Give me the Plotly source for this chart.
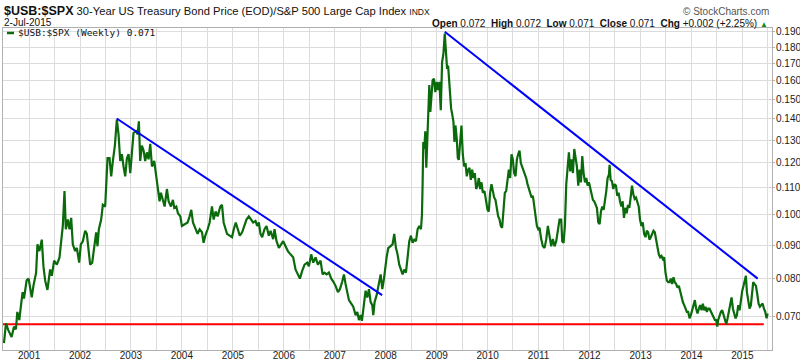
import pandas as pd
import plotly.graph_objects as go

# ---- data (decimal years, ratio values) ----
years = [
 2000.509,2000.548,2000.594,2000.659,2000.705,2000.744,2000.771,2000.810,2000.836,2000.875,2000.902,2000.954,2000.993,
 2001.052,2001.085,2001.138,2001.164,2001.203,2001.249,2001.282,2001.315,2001.360,2001.413,2001.446,2001.491,2001.544,
 2001.596,2001.623,2001.662,2001.695,2001.721,2001.760,2001.793,2001.826,2001.858,2001.904,2001.937,2001.983,
 2002.016,2002.055,2002.101,2002.134,2002.166,2002.199,2002.239,2002.278,2002.317,2002.343,2002.370,2002.415,2002.448,
 2002.494,2002.514,2002.540,2002.579,2002.612,2002.645,2002.684,2002.723,2002.756,2002.789,2002.822,2002.854,2002.887,
 2002.920,2002.953,2002.986,2003.025,2003.051,2003.104,2003.130,2003.156,2003.182,2003.215,2003.248,2003.280,2003.313,
 2003.346,2003.379,2003.412,2003.457,2003.497,2003.543,2003.562,2003.588,2003.628,2003.661,2003.706,2003.739,2003.785,
 2003.824,2003.851,2003.890,2003.923,2003.969,2004.001,2004.067,2004.113,2004.152,2004.185,2004.218,2004.263,2004.309,
 2004.349,2004.395,2004.427,2004.460,2004.506,2004.545,2004.591,2004.624,2004.663,2004.702,2004.755,2004.788,2004.820,
 2004.853,2004.886,2004.938,2004.984,2005.017,2005.056,2005.096,2005.135,2005.181,2005.227,2005.266,2005.312,2005.358,
 2005.397,2005.443,2005.476,2005.508,2005.541,2005.574,2005.620,2005.659,2005.705,2005.738,2005.790,2005.816,2005.856,
 2005.902,2005.948,2005.987,2006.033,2006.079,2006.131,2006.183,2006.229,2006.275,2006.315,2006.360,2006.406,2006.459,
 2006.491,2006.537,2006.577,2006.623,2006.668,2006.721,2006.760,2006.799,2006.839,2006.885,2006.931,2006.970,2007.016,
 2007.062,2007.101,2007.147,2007.180,2007.212,2007.245,2007.278,2007.324,2007.363,2007.409,2007.442,2007.474,2007.507,
 2007.533,2007.573,2007.605,2007.638,2007.671,2007.704,2007.736,2007.756,2007.782,2007.822,2007.867,2007.900,2007.933,
 2007.966,2008.018,2008.050,
 2008.135,2008.168,2008.201,2008.233,2008.266,2008.299,2008.332,2008.364,2008.397,2008.430,2008.463,2008.495,2008.528,
 2008.561,2008.594,2008.626,2008.659,2008.692,2008.712,2008.725,2008.738,2008.758,2008.777,2008.797,2008.817,2008.836,
 2008.856,2008.876,2008.895,2008.921,2008.948,2008.974,2009.000,2009.026,2009.052,2009.079,2009.105,2009.131,2009.157,
 2009.183,2009.203,2009.223,2009.249,2009.282,2009.301,2009.328,2009.347,2009.367,2009.393,2009.413,2009.432,2009.459,
 2009.485,2009.511,2009.537,2009.564,2009.590,2009.616,2009.642,2009.668,2009.695,2009.721,2009.747,2009.773,2009.799,
 2009.826,2009.852,2009.878,2009.904,2009.937,2009.970,2009.996,2010.022,2010.048,2010.075,2010.101,2010.127,2010.153,
 2010.180,2010.206,2010.232,2010.258,2010.284,2010.311,2010.337,2010.363,2010.389,2010.415,2010.442,2010.468,2010.494,
 2010.520,2010.547,2010.573,2010.599,2010.625,2010.651,2010.678,2010.704,2010.730,2010.756,2010.782,2010.809,2010.835,
 2010.861,2010.887,2010.913,2010.940,2010.966,2010.992,2011.018,2011.051,2011.084,2011.117,2011.149,2011.182,2011.215,
 2011.248,2011.280,2011.313,2011.346,2011.379,2011.411,2011.444,2011.464,2011.490,2011.516,2011.543,2011.569,2011.595,
 2011.621,2011.647,2011.674,2011.700,2011.726,2011.752,2011.778,2011.805,2011.831,2011.857,2011.883,2011.910,2011.936,
 2011.962,2011.988,2012.014,2012.041,2012.067,2012.093,2012.119,2012.145,2012.172,2012.198,2012.224,2012.250,2012.277,
 2012.303,2012.329,2012.355,2012.381,2012.394,2012.414,2012.440,2012.467,2012.493,2012.519,2012.545,2012.571,2012.598,
 2012.624,2012.650,2012.676,2012.702,2012.729,2012.755,2012.781,2012.807,2012.834,2012.860,2012.886,2012.912,2012.938,
 2012.965,2012.991,2013.017,2013.043,2013.069,2013.096,2013.122,2013.148,2013.174,2013.200,2013.227,2013.253,2013.279,
 2013.305,2013.332,2013.358,2013.384,2013.410,2013.436,2013.463,2013.489,2013.515,2013.541,2013.567,2013.594,2013.620,
 2013.646,2013.672,2013.699,2013.725,2013.751,2013.777,2013.803,2013.830,2013.856,2013.882,2013.908,2013.934,2013.961,
 2013.987,2014.013,2014.039,2014.066,2014.092,2014.118,2014.144,2014.170,2014.197,2014.223,2014.249,2014.275,2014.301,
 2014.328,2014.354,2014.380,2014.406,2014.433,2014.459,2014.485,2014.505,2014.524,2014.551,2014.577,2014.603,2014.629,
 2014.655,2014.682,2014.708,2014.734,2014.760,2014.786,2014.813,2014.839,2014.865,2014.891,2014.917,2014.944,2014.970,
 2014.996,2015.022,2015.048,2015.068,2015.088,2015.114,2015.140,2015.166,2015.193,2015.212,2015.238,2015.265,2015.291,
 2015.317,2015.343,2015.369,2015.396,2015.422,2015.448,2015.474,2015.494,
]
ratio = [
 0.0638,0.0684,0.0668,0.0652,0.0676,0.0670,0.0712,0.0692,0.0721,0.0763,0.0746,0.0795,0.0800,
 0.0749,0.0780,0.0817,0.0902,0.0881,0.0917,0.0835,0.0795,0.0769,0.0826,0.0808,0.0852,0.0840,
 0.0861,0.0902,0.0962,0.1087,0.0951,0.0984,0.0951,0.0990,0.0902,0.0881,0.0891,0.0846,
 0.0902,0.0912,0.0946,0.0936,0.0881,0.0840,0.0846,0.0891,0.0941,0.0896,0.0951,0.0984,0.1036,
 0.1030,0.1131,0.1220,0.1220,0.1145,0.1208,0.1275,0.1397,0.1326,0.1208,0.1237,0.1185,0.1145,
 0.1220,0.1237,0.1158,0.1260,0.1333,0.1340,0.1326,0.1388,0.1208,0.1275,0.1253,0.1208,0.1245,
 0.1215,0.1283,0.1185,0.1208,0.1145,0.1081,0.1049,0.1081,0.1054,0.1030,0.1095,0.1049,0.1030,
 0.1054,0.1025,0.1030,0.1006,0.0995,0.0962,0.0968,0.0974,0.0995,0.1018,0.0974,0.0956,0.0936,
 0.0951,0.0941,0.0907,0.0930,0.0951,0.0974,0.1030,0.0984,0.1012,0.0995,0.1030,0.1036,0.0974,
 0.0951,0.0936,0.0930,0.0925,0.0951,0.0974,0.0951,0.0930,0.0941,0.0962,0.0984,0.0995,0.0984,
 0.0974,0.0979,0.0962,0.0974,0.0936,0.0925,0.0951,0.0962,0.0930,0.0946,0.0919,0.0951,0.0912,
 0.0891,0.0902,0.0912,0.0896,0.0881,0.0871,0.0862,0.0826,0.0812,0.0800,0.0822,0.0840,0.0846,
 0.0835,0.0871,0.0846,0.0862,0.0840,0.0852,0.0812,0.0817,0.0812,0.0817,0.0800,0.0792,0.0780,
 0.0763,0.0771,0.0792,0.0812,0.0785,0.0763,0.0742,0.0733,0.0725,0.0704,0.0712,0.0692,0.0704,
 0.0690,0.0737,0.0767,0.0749,0.0771,0.0737,0.0729,0.0704,0.0737,0.0755,0.0785,0.0812,0.0771,
 0.0800,0.0862,0.0890,
 0.0902,0.0936,0.0891,0.0871,0.0840,0.0822,0.0812,0.0826,0.0817,0.0862,0.0912,0.0930,0.0907,
 0.0917,0.0912,0.0951,0.0962,0.0951,0.1000,0.1118,0.1291,0.1260,0.1340,0.1180,0.1305,0.1368,
 0.1576,0.1435,0.1512,0.1603,0.1612,0.1538,0.1594,0.1548,0.1594,0.1443,0.1708,0.1759,0.1887,
 0.1708,0.1668,0.1687,0.1557,0.1451,0.1426,0.1385,0.1291,0.1368,0.1305,0.1221,0.1213,0.1305,
 0.1368,0.1237,0.1185,0.1199,0.1145,0.1172,0.1179,0.1131,0.1172,0.1138,0.1158,0.1095,0.1108,
 0.1138,0.1095,0.1121,0.1081,0.1087,0.1049,0.1018,0.1012,0.1081,0.1114,0.1081,0.1063,0.1054,
 0.1025,0.0995,0.0985,0.0962,0.0956,0.1012,0.1081,0.1087,0.1131,0.1172,0.1138,0.1237,0.1215,
 0.1158,0.1145,0.1215,0.1237,0.1253,0.1199,0.1185,0.1165,0.1151,0.1138,0.1114,0.1095,0.1081,
 0.1063,0.1069,0.1030,0.0984,0.0962,0.0951,0.0956,0.0919,0.0896,0.0891,0.0917,0.0962,0.0930,
 0.0896,0.0919,0.0896,0.0912,0.0946,0.0984,0.0984,0.0912,0.0907,0.0962,0.1114,0.1199,0.1245,
 0.1165,0.1215,0.1158,0.1260,0.1221,0.1185,0.1108,0.1172,0.1121,0.1229,0.1158,0.1121,0.1138,
 0.1108,0.1121,0.1095,0.1075,0.1054,0.1049,0.1036,0.1025,0.0974,0.0968,0.1012,0.1030,0.1018,
 0.1049,0.1087,0.1138,0.1151,0.1192,0.1131,0.1125,0.1095,0.1114,0.1108,0.1069,0.1081,0.1049,
 0.1030,0.1049,0.0990,0.1025,0.1006,0.1036,0.1025,0.1063,0.1108,0.1075,0.1058,0.1063,0.1049,
 0.1030,0.0984,0.0962,0.0974,0.0936,0.0925,0.0946,0.0941,0.0917,0.0925,0.0936,0.0946,0.0941,
 0.0919,0.0891,0.0871,0.0862,0.0866,0.0857,0.0862,0.0817,0.0795,0.0790,0.0790,0.0800,0.0785,
 0.0804,0.0790,0.0785,0.0775,0.0780,0.0763,0.0749,0.0737,0.0729,0.0720,0.0712,0.0712,0.0696,
 0.0704,0.0716,0.0729,0.0742,0.0720,0.0708,0.0720,0.0729,0.0716,0.0733,0.0716,0.0725,0.0712,
 0.0720,0.0720,0.0712,0.0704,0.0700,0.0692,0.0692,0.0676,0.0692,0.0704,0.0712,0.0716,0.0704,
 0.0692,0.0682,0.0696,0.0716,0.0737,0.0749,0.0720,0.0704,0.0696,0.0704,0.0729,0.0716,0.0749,
 0.0767,0.0780,0.0800,0.0808,0.0763,0.0737,0.0720,0.0729,0.0763,0.0790,0.0785,0.0780,0.0758,
 0.0733,0.0725,0.0729,0.0733,0.0720,0.0712,0.0696,0.0708,
]

# trend lines (decimal years, values)
trend1_years = [2002.72, 2007.93]
trend1_vals = [0.1402, 0.0755]
trend2_years = [2009.157, 2015.30]
trend2_vals = [0.1900, 0.0800]
support_years = [2000.45, 2015.42]
support_vals = [0.0682, 0.0682]

y_ticks = [0.070, 0.080, 0.090, 0.100, 0.110, 0.120, 0.130, 0.140, 0.150, 0.160, 0.170, 0.180, 0.190]
y_tick_labels = [f"{v:.3f}" for v in y_ticks]


def to_dates(ys):
    out = []
    for y in ys:
        yr = int(y)
        out.append(pd.Timestamp(yr, 1, 1) + pd.Timedelta(days=(y - yr) * 365.25))
    return out


GREEN = "#0b6a0b"
FONT = "Liberation Sans, Arial, sans-serif"

fig = go.Figure()
fig.add_trace(go.Scatter(x=to_dates(support_years), y=support_vals, mode="lines",
                         line=dict(color="#ff0000", width=2), hoverinfo="skip"))
fig.add_trace(go.Scatter(x=to_dates(years), y=ratio, mode="lines",
                         line=dict(color=GREEN, width=2.2), name="$USB:$SPX"))
fig.add_trace(go.Scatter(x=to_dates(trend1_years), y=trend1_vals, mode="lines",
                         line=dict(color="#0000ff", width=2), hoverinfo="skip"))
fig.add_trace(go.Scatter(x=to_dates(trend2_years), y=trend2_vals, mode="lines",
                         line=dict(color="#0000ff", width=2), hoverinfo="skip"))

fig.update_layout(
    width=800, height=362,
    margin=dict(l=3, r=28, t=28, b=12),
    paper_bgcolor="white", plot_bgcolor="white",
    showlegend=False,
    font=dict(family=FONT, size=10, color="#222"),
    xaxis=dict(
        type="date",
        range=["2000-06-28", "2015-08-01"],
        tick0="2001-01-01", dtick="M12", tickformat="%Y",
        showgrid=True, gridcolor="#dcdcdc", gridwidth=1,
        minor=dict(dtick="M6", tick0="2000-07-01", showgrid=True, gridcolor="#dcdcdc", gridwidth=1),
        showline=True, linecolor="#b0b0b0", linewidth=1, mirror=True,
        ticks="", tickfont=dict(size=10, color="#222"),
        ticklabelstandoff=-4,
        automargin=False, zeroline=False,
    ),
    yaxis=dict(
        type="log", side="right",
        range=[-1.2055, -0.7156],
        tickvals=y_ticks, ticktext=y_tick_labels,
        showgrid=True, gridcolor="#dcdcdc", gridwidth=1,
        showline=True, linecolor="#b0b0b0", linewidth=1, mirror=True,
        ticks="outside", ticklen=2, tickcolor="#b0b0b0",
        tickfont=dict(size=10, color="#222"),
        ticklabelstandoff=-1,
        automargin=False, zeroline=False,
    ),
)

annotations = [
    dict(x=0, y=1.0528, xref="paper", yref="paper", xanchor="left", yanchor="middle",
         text="<b><span style='font-size:12.5px'>$USB:$SPX</span></b> 30-Year US Treasury Bond Price (EOD)/S&amp;P 500 Large Cap Index <span style='font-size:8.5px'>INDX</span>",
         font=dict(size=11.2, color="#111", family=FONT), showarrow=False, borderpad=0),
    dict(x=0, y=1.0186, xref="paper", yref="paper", xanchor="left", yanchor="middle",
         text="2-Jul-2015", font=dict(size=10, color="#111", family=FONT), showarrow=False, borderpad=0),
    dict(x=0.9974, y=1.0497, xref="paper", yref="paper", xanchor="right", yanchor="middle",
         text="© StockCharts.com", font=dict(size=10, color="#555", family=FONT), showarrow=False, borderpad=0),
    dict(x=0.9961, y=1.0155, xref="paper", yref="paper", xanchor="right", yanchor="middle",
         text="<b>Open</b> 0.072  <b>High</b> 0.072  <b>Low</b> 0.071  <b>Close</b> 0.071  <b>Chg</b> +0.002 (+2.25%) <span style='color:#1a8a1a;font-size:8px'>▲</span>",
         font=dict(size=10, color="#111", family=FONT), showarrow=False, borderpad=0),
    dict(x=0.0182, y=0.9845, xref="paper", yref="paper", xanchor="left", yanchor="middle",
         text="$USB:$SPX (Weekly) 0.071", font=dict(size=9.5, color="#111", family="DejaVu Sans Mono, monospace"),
         showarrow=False, borderpad=0),
]
fig.update_layout(annotations=annotations)
fig.add_shape(type="line", xref="paper", yref="paper", x0=0.0052, x1=0.0143, y0=0.9845, y1=0.9845,
              line=dict(color=GREEN, width=2.5))

fig.write_html("out.html",
               config={"displayModeBar": False},
               post_script="document.body.style.margin='0';document.body.style.padding='0';document.body.style.overflow='hidden';")
